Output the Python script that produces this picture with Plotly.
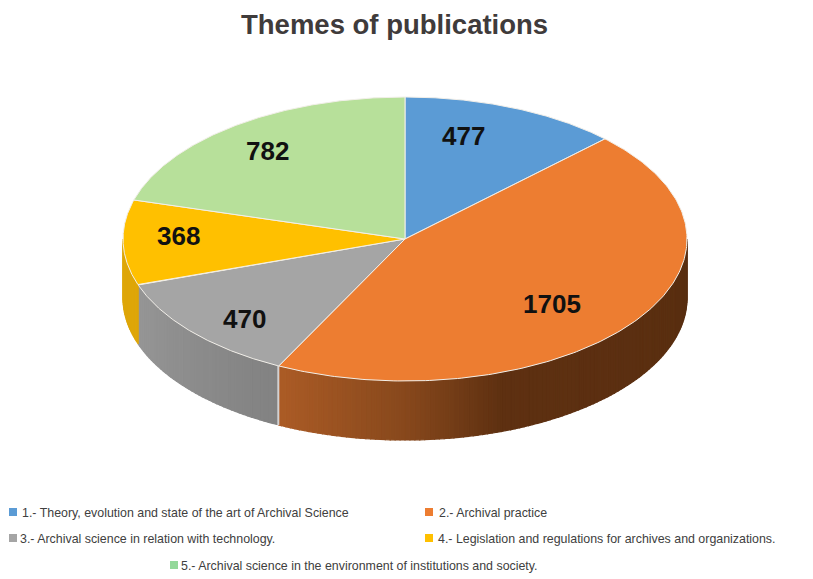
import numpy as np
import plotly.graph_objects as go

# ---- data ----
categories = [
    "1.- Theory, evolution and state of the art of Archival Science",
    "2.- Archival practice",
    "3.- Archival science in relation with technology.",
    "4.- Legislation and regulations for archives and organizations.",
    "5.- Archival science in the environment of institutions and society.",
]
values = [477, 1705, 470, 368, 782]
title = "Themes of publications"

# ---- style ----
top_colors = ["#5b9bd5", "#ed7d31", "#a5a5a5", "#ffc000", "#b7e09a"]
legend_colors = ["#5b9bd5", "#ed7d31", "#a5a5a5", "#ffc000", "#93d89a"]
# wall shading: (angle in degrees clockwise from the top, colour)
wall_stops = [
    [],
    [(90, (88, 46, 16)), (160, (94, 48, 17)), (180, (135, 72, 28)), (207, (172, 92, 38))],
    [(207, (130, 130, 130)), (251, (150, 150, 150))],
    [(251, (222, 166, 8)), (270, (222, 166, 8))],
    [],
]
CX, CY, RX, RY, DEPTH = 405, 239, 282, 142, 59
label_shift = [(-6, -24), (10, 15), (-33, 24), (-57, -5), (-36, -20)]
legend_pos = [(13, 512), (429, 512), (13, 538), (429, 538), (174, 565)]
legend_text_x = [20, 437, 18, 436, 179]
legend_text_dy = 1


def ell(t_deg, drop=0.0, f=1.0):
    t = np.radians(t_deg)
    return CX + RX * f * np.sin(t), CY - RY * f * np.cos(t) + drop


fig = go.Figure()
edges = np.concatenate([[0], np.cumsum(values)]) / sum(values) * 360.0

# side walls, drawn as thin shaded strips
for i, stops in enumerate(wall_stops):
    if not stops:
        continue
    a0 = max(edges[i], stops[0][0])
    a1 = min(edges[i + 1], stops[-1][0])
    grid = np.append(np.arange(a0, a1, 1.0), a1)
    sa = [s[0] for s in stops]
    for lo, hi in zip(grid[:-1], grid[1:]):
        mid = (lo + hi) / 2
        r, g, b = (np.interp(mid, sa, [s[1][k] for s in stops]) for k in range(3))
        col = f"rgb({r:.0f},{g:.0f},{b:.0f})"
        ts = np.array([lo, hi])
        xt, yt = ell(ts)
        xb, yb = ell(ts[::-1], DEPTH)
        fig.add_trace(go.Scatter(
            x=np.r_[xt, xb, xt[0]], y=np.r_[yt, yb, yt[0]], mode="lines", fill="toself",
            fillcolor=col, line=dict(color=col, width=1.2), hoverinfo="skip", showlegend=False))

# light seam between grey and orange walls
sx, sy = ell(np.array([edges[2], edges[2]]))
fig.add_trace(go.Scatter(x=sx, y=[sy[0], sy[0] + DEPTH], mode="lines",
                         line=dict(color="#d5dde5", width=1.2), hoverinfo="skip", showlegend=False))

# top faces
for i in range(len(values)):
    ts = np.linspace(edges[i], edges[i + 1], 200)
    xs, ys = ell(ts)
    fig.add_trace(go.Scatter(
        x=np.r_[CX, xs, CX], y=np.r_[CY, ys, CY], mode="lines", fill="toself",
        fillcolor=top_colors[i], line=dict(color="#f2efe9", width=1),
        hoverinfo="skip", showlegend=False))

# value labels
for i, v in enumerate(values):
    mid = (edges[i] + edges[i + 1]) / 2
    x, y = ell(mid, f=0.6)
    fig.add_annotation(x=x + label_shift[i][0], y=y + label_shift[i][1], text=f"<b>{v}</b>",
                       showarrow=False, font=dict(family="Liberation Sans", size=26, color="#111111"))

# legend
for i, c in enumerate(categories):
    fig.add_trace(go.Scatter(x=[legend_pos[i][0]], y=[legend_pos[i][1]], mode="markers",
                             marker=dict(symbol="square", size=8, color=legend_colors[i]),
                             hoverinfo="skip", showlegend=False))
    fig.add_annotation(x=legend_text_x[i], y=legend_pos[i][1] + legend_text_dy, text=c,
                       showarrow=False, xanchor="left",
                       font=dict(family="Liberation Sans", size=12.4, color="#404040"))

fig.add_annotation(x=394, y=24, text=f"<b>{title}</b>", showarrow=False,
                   font=dict(family="Liberation Sans", size=27.5, color="#3f3b3b"))

# the page puts an 8 px margin round the plot, so the plot area starts at pixel (8, 8)
fig.update_layout(
    width=805, height=571, margin=dict(l=0, r=0, t=0, b=0),
    paper_bgcolor="white", plot_bgcolor="white",
    xaxis=dict(range=[8, 813], visible=False, fixedrange=True),
    yaxis=dict(range=[579, 8], visible=False, fixedrange=True),
)
fig.write_html("out.html", config=dict(displayModeBar=False))
